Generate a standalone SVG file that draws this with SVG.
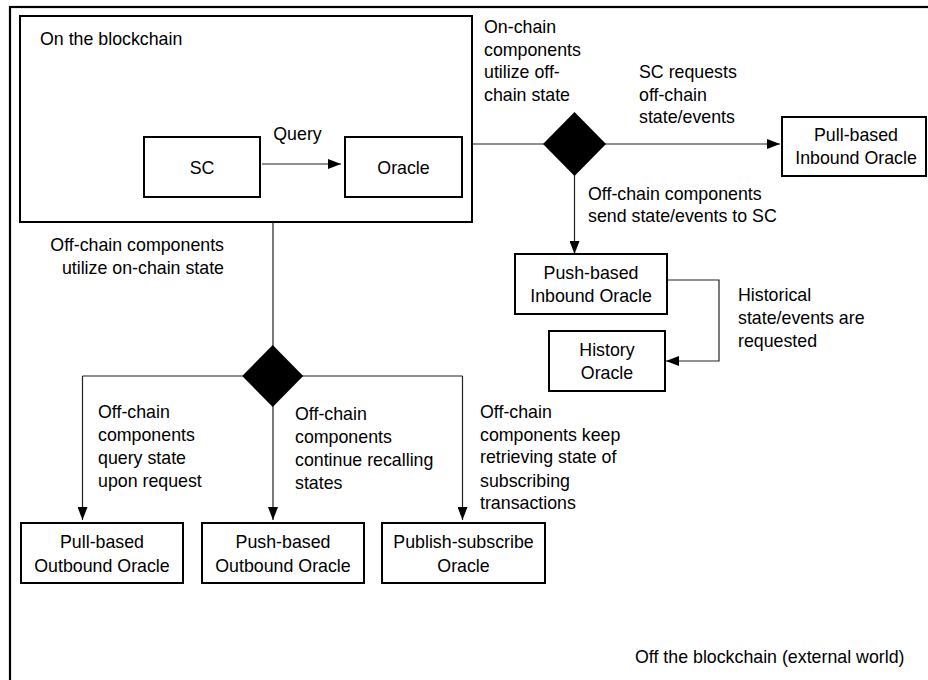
<svg xmlns="http://www.w3.org/2000/svg" width="928" height="680" viewBox="0 0 928 680">
<style>
  text { font-family: "Liberation Sans", Arial, sans-serif; font-size: 17.8px; fill: #000; }
  .c { text-anchor: middle; }
  .r { text-anchor: end; }
  .box { fill: #fff; stroke: #000; stroke-width: 2; }
  .frame { fill: none; stroke: #000; stroke-width: 2.2; }
  .dia { fill: #000; stroke: none; }
  .ln { fill: none; stroke: #222; stroke-width: 1.2; }
  .arr { fill: none; stroke: #222; stroke-width: 1.2; marker-end: url(#ah); }
</style>
<defs>
  <marker id="ah" viewBox="0 0 13 10" refX="13" refY="5" markerWidth="13" markerHeight="10" markerUnits="userSpaceOnUse" orient="auto">
    <path d="M0,0 L13,5 L0,10 z" fill="#000"/>
  </marker>
</defs>
<rect width="928" height="680" fill="#fff"/>

<g id="offchain-world">
  <rect class="frame" x="10" y="7" width="1000" height="800"/>
  <text x="635" y="663">Off the blockchain (external world)</text>
</g>

<g id="onchain">
  <rect class="box" x="20" y="16" width="452" height="206"/>
  <text x="40" y="45">On the blockchain</text>
</g>

<g id="connectors">
  <path class="arr" d="M262,164 H341"/>
  <path class="ln" d="M472,144 H545"/>
  <path class="arr" d="M604,144 H780"/>
  <path class="arr" d="M574.5,174 V254"/>
  <path class="arr" d="M667,280 H719 V361 H666"/>
  <path class="ln" d="M273,222 V347"/>
  <path class="arr" d="M82.5,376 V520"/>
  <path class="arr" d="M462.5,376 V520"/>
  <path class="ln" d="M82.5,376 H462.5"/>
  <path class="arr" d="M273,405 V520"/>
</g>

<g id="sc">
  <rect class="box" x="144" y="137" width="116" height="60"/>
  <text class="c" x="202" y="173.5">SC</text>
</g>
<g id="oracle">
  <rect class="box" x="345" y="137" width="117" height="60"/>
  <text class="c" x="403.5" y="173.5">Oracle</text>
</g>

<g id="decision-inbound">
  <polygon class="dia" points="574.5,112 606,144 574.5,176 543,144"/>
</g>
<g id="pull-inbound">
  <rect class="box" x="782" y="117" width="144" height="59"/>
  <text class="c" x="856" y="141">Pull-based</text>
  <text class="c" x="856" y="164">Inbound Oracle</text>
</g>
<g id="push-inbound">
  <rect class="box" x="515" y="254" width="152" height="60"/>
  <text class="c" x="591" y="279">Push-based</text>
  <text class="c" x="591" y="302">Inbound Oracle</text>
</g>
<g id="history">
  <rect class="box" x="549" y="331" width="116" height="60"/>
  <text class="c" x="607" y="356">History</text>
  <text class="c" x="607" y="379">Oracle</text>
</g>

<g id="decision-outbound">
  <polygon class="dia" points="272.7,345 303.2,376 272.7,407 242.2,376"/>
</g>
<g id="pull-outbound">
  <rect class="box" x="21" y="523" width="162" height="60"/>
  <text class="c" x="102" y="548">Pull-based</text>
  <text class="c" x="102" y="572">Outbound Oracle</text>
</g>
<g id="push-outbound">
  <rect class="box" x="202" y="523" width="162" height="60"/>
  <text class="c" x="283" y="548">Push-based</text>
  <text class="c" x="283" y="572">Outbound Oracle</text>
</g>
<g id="pubsub">
  <rect class="box" x="382" y="523" width="163" height="60"/>
  <text class="c" x="463.5" y="548">Publish-subscribe</text>
  <text class="c" x="463.5" y="572">Oracle</text>
</g>

<g id="labels">
  <text x="297.5" y="140" class="c">Query</text>
  <text x="484" y="33">On-chain</text>
  <text x="484" y="55.5">components</text>
  <text x="484" y="78">utilize off-</text>
  <text x="484" y="100.5">chain state</text>
  <text x="639" y="78">SC requests</text>
  <text x="639" y="100.5">off-chain</text>
  <text x="639" y="123">state/events</text>
  <text x="588" y="200">Off-chain components</text>
  <text x="588" y="222">send state/events to SC</text>
  <text x="738" y="301">Historical</text>
  <text x="738" y="324">state/events are</text>
  <text x="738" y="347">requested</text>
  <text class="r" x="224" y="251">Off-chain components</text>
  <text class="r" x="224" y="274">utilize on-chain state</text>
  <text x="98" y="418">Off-chain</text>
  <text x="98" y="441">components</text>
  <text x="98" y="464">query state</text>
  <text x="98" y="487">upon request</text>
  <text x="295" y="420">Off-chain</text>
  <text x="295" y="443">components</text>
  <text x="295" y="466">continue recalling</text>
  <text x="295" y="489">states</text>
  <text x="480" y="418">Off-chain</text>
  <text x="480" y="441">components keep</text>
  <text x="480" y="463">retrieving state of</text>
  <text x="480" y="487">subscribing</text>
  <text x="480" y="509">transactions</text>
</g>
</svg>
